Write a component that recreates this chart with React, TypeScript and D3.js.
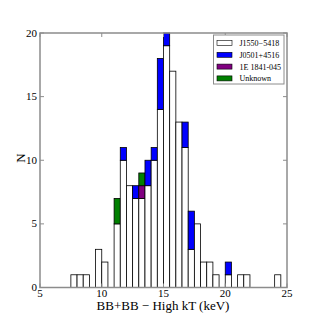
import React from "react";
import * as d3 from "d3";

const binStarts = [7.5, 8, 8.5, 9, 9.5, 10, 10.5, 11, 11.5, 12, 12.5, 13, 13.5, 14, 14.5, 15, 15.5, 16, 16.5, 17, 17.5, 18, 18.5, 19, 19.5, 20, 20.5, 21, 21.5, 22, 22.5, 23, 23.5, 24];
const j1550 = [1, 1, 1, 0, 3, 2, 0, 5, 10, 8, 7, 7, 8, 10, 14, 19, 17, 13, 11, 3, 5, 2, 2, 1, 0, 1, 0, 1, 1, 0, 0, 0, 0, 1];
const j0501 = [0, 0, 0, 0, 0, 0, 0, 0, 1, 0, 1, 0, 2, 1, 4, 1, 0, 0, 2, 3, 0, 0, 0, 0, 0, 1, 0, 0, 0, 0, 0, 0, 0, 0];
const e1841 = [0, 0, 0, 0, 0, 0, 0, 0, 0, 0, 0, 1, 0, 0, 0, 0, 0, 0, 0, 0, 0, 0, 0, 0, 0, 0, 0, 0, 0, 0, 0, 0, 0, 0];
const unknown = [0, 0, 0, 0, 0, 0, 0, 2, 0, 0, 0, 1, 0, 0, 0, 0, 0, 0, 0, 0, 0, 0, 0, 0, 0, 0, 0, 0, 0, 0, 0, 0, 0, 0];
const binWidth = 0.5;

const seriesNames = ["J1550\u22125418", "J0501+4516", "1E 1841-045", "Unknown"];
const seriesColors = ["#ffffff", "#0000ff", "#800080", "#008000"];
const seriesData = [j1550, j0501, e1841, unknown];

const xTicks = [5, 10, 15, 20, 25];
const yTicks = [0, 5, 10, 15, 20];

export default function App() {
  const left = 40, right = 287, top = 33, bottom = 287.5;
  const x = d3.scaleLinear().domain([5, 25]).range([left, right]);
  const y = d3.scaleLinear().domain([0, 20]).range([bottom, top]);
  const font = "'Liberation Serif', 'DejaVu Serif', serif";
  const frame = "#8c8c8c";

  const rects: React.ReactNode[] = [];
  binStarts.forEach((b, i) => {
    let base = 0;
    seriesData.forEach((s, k) => {
      const v = s[i];
      if (v > 0) {
        rects.push(
          <rect
            key={`${i}-${k}`}
            x={x(b)}
            width={x(b + binWidth) - x(b)}
            y={y(base + v)}
            height={y(base) - y(base + v)}
            fill={seriesColors[k]}
            stroke="#000"
            strokeWidth={0.8}
          />
        );
      }
      base += v;
    });
  });

  return (
    <svg width={320} height={320} style={{ position: "absolute", left: 0, top: 0, background: "#fff" }}>
      <rect x={0} y={0} width={320} height={320} fill="#fff" />
      {rects}
      <rect x={left} y={top} width={right - left} height={bottom - top} fill="none" stroke={frame} strokeWidth={1.5} />
      {xTicks.map((t) => (
        <g key={"x" + t}>
          <line x1={x(t)} x2={x(t)} y1={bottom} y2={bottom - 4} stroke={frame} strokeWidth={1} />
          <line x1={x(t)} x2={x(t)} y1={top} y2={top + 4} stroke={frame} strokeWidth={1} />
          <text x={x(t)} y={bottom + 9.5} textAnchor="middle" fontFamily={font} fontSize={11} fill="#000">{t}</text>
        </g>
      ))}
      {yTicks.map((t) => (
        <g key={"y" + t}>
          <line x1={left} x2={left + 4} y1={y(t)} y2={y(t)} stroke={frame} strokeWidth={1} />
          <line x1={right} x2={right - 4} y1={y(t)} y2={y(t)} stroke={frame} strokeWidth={1} />
          <text x={left - 3} y={y(t) + 3.5} textAnchor="end" fontFamily={font} fontSize={11} fill="#000">{t}</text>
        </g>
      ))}
      <text x={163} y={310} textAnchor="middle" fontFamily={font} fontSize={13} fill="#000">BB+BB − High kT (keV)</text>
      <text transform={`translate(25,158) rotate(-90)`} textAnchor="middle" fontFamily={font} fontSize={13} fill="#000">N</text>
      <g>
        <rect x={213.5} y={35} width={70.5} height={49} fill="#fff" stroke={frame} strokeWidth={1} />
        {seriesNames.map((n, k) => (
          <g key={n}>
            <rect x={217} y={40.5 + k * 11.8} width={15} height={5} fill={seriesColors[k]} stroke="#000" strokeWidth={0.6} />
            <text x={239.5} y={46 + k * 11.8} fontFamily={font} fontSize={8} fill="#000">{n}</text>
          </g>
        ))}
      </g>
    </svg>
  );
}
